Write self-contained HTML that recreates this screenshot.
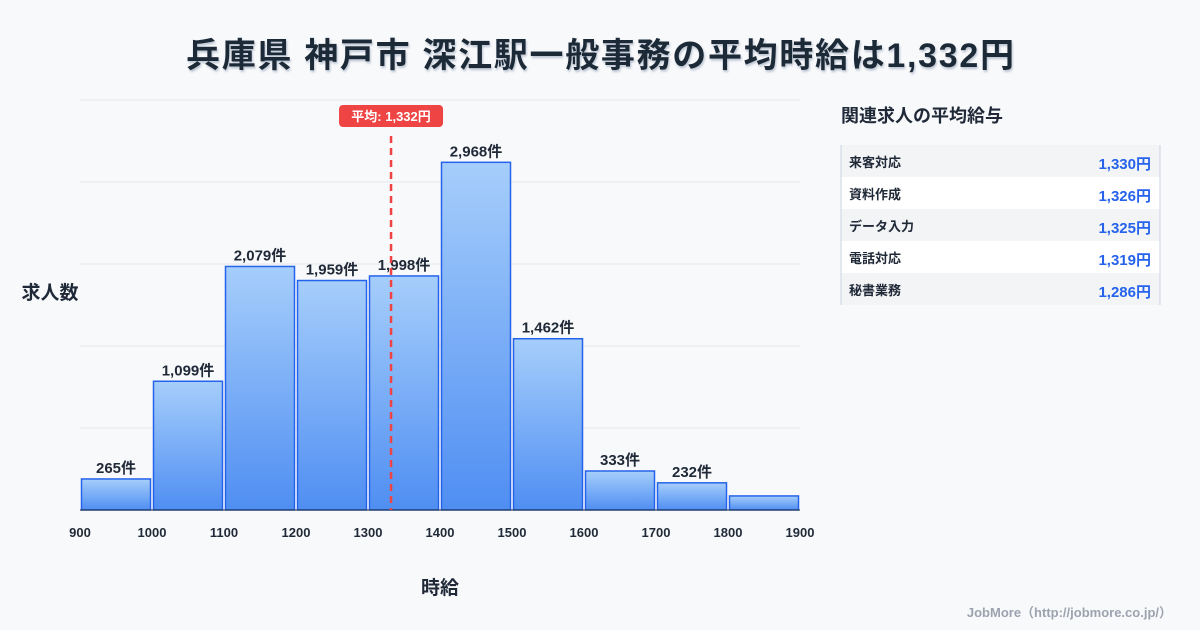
<!DOCTYPE html>
<html><head><meta charset="utf-8">
<style>
body{margin:0;background:#f8f9fb;font-family:"Liberation Sans","Noto Sans CJK JP",sans-serif;}
#wrap{position:relative;width:1200px;height:630px;overflow:hidden;background:#f8f9fb;}
svg text{font-family:"Liberation Sans","Noto Sans CJK JP",sans-serif;}
</style></head><body>
<div id="wrap">
<svg id="svg" width="1200" height="630">
<defs>
<linearGradient id="bg" x1="0" y1="0" x2="0" y2="1">
<stop offset="0" stop-color="#a6cefb"/><stop offset="1" stop-color="#4f8ef2"/>
</linearGradient>
<filter id="sh"><feDropShadow dx="1" dy="2" stdDeviation="1" flood-color="#94a3b8" flood-opacity="0.6"/></filter>
</defs>
<text x="186" y="67" textLength="828" lengthAdjust="spacing" font-size="34" font-weight="bold" fill="#1f2937" filter="url(#sh)">兵庫県 神戸市 深江駅一般事務の平均時給は1,332円</text>
<g id="grid"></g>
<g id="bars"></g>
<g id="xt"></g>
<line x1="80" y1="510" x2="800" y2="510" stroke="#1f2937" stroke-width="1"/>
<text x="440" y="594" text-anchor="middle" font-size="19" font-weight="bold" fill="#1f2937">時給</text>
<text x="50" y="299" text-anchor="middle" font-size="19" font-weight="bold" fill="#1f2937">求人数</text>
<g id="mean"></g>
<text x="841" y="122" font-size="18" font-weight="bold" fill="#1f2937">関連求人の平均給与</text>
<g id="tbl"></g>
<text x="1172" y="617" text-anchor="end" font-size="13" font-weight="bold" fill="#9ca3af">JobMore（http://jobmore.co.jp/）</text>
</svg>
</div>
<script>
const binStarts=[900,1000,1100,1200,1300,1400,1500,1600,1700,1800];
const counts=[265,1099,2079,1959,1998,2968,1462,333,232,120];
const countLabels=["265件","1,099件","2,079件","1,959件","1,998件","2,968件","1,462件","333件","232件",""];
const xTicks=[900,1000,1100,1200,1300,1400,1500,1600,1700,1800,1900];
const yGrid=[0,700,1400,2100,2800,3500];
const meanValue=1332;
const jobNames=["来客対応","資料作成","データ入力","電話対応","秘書業務"];
const jobWages=["1,330円","1,326円","1,325円","1,319円","1,286円"];
const NS="http://www.w3.org/2000/svg";
const xs=v=>80+(v-900)*0.72;
const ys=v=>510-v*410/3500;
function mk(t,a,p){const e=document.createElementNS(NS,t);for(const k in a)e.setAttribute(k,a[k]);p.appendChild(e);return e;}
const g=document.getElementById('grid');
yGrid.forEach(v=>{const l=mk('line',{x1:80,x2:800,y1:ys(v),y2:ys(v),stroke:'#e5e7eb','stroke-width':1},g);

});
const b=document.getElementById('bars');
binStarts.forEach((s,i)=>{const x0=xs(s)+1.5,x1=xs(s+100)-1.5,y=ys(counts[i]);
const r=mk('rect',{x:x0,y:y,width:x1-x0,height:510-y,fill:'url(#bg)',stroke:'#2563eb','stroke-width':1.5},b);


if(countLabels[i]){const t=mk('text',{x:(x0+x1)/2,y:y-6,'text-anchor':'middle','font-size':15,'font-weight':'bold',fill:'#1f2937'},b);t.textContent=countLabels[i];

}});
const xt=document.getElementById('xt');
xTicks.forEach(v=>{const t=mk('text',{x:xs(v),y:537,'text-anchor':'middle','font-size':13,'font-weight':'bold',fill:'#1f2937'},xt);t.textContent=v;

});
const m=document.getElementById('mean');const mx=xs(meanValue);
const ml=mk('line',{x1:mx,x2:mx,y1:136,y2:510,stroke:'#ef4444','stroke-width':2.5,'stroke-dasharray':'7,5'},m);


const mr=mk('rect',{x:mx-52,y:105,width:104,height:22,rx:4,fill:'#ef4444'},m);


const mt=mk('text',{x:mx,y:121,'text-anchor':'middle','font-size':13,'font-weight':'bold',fill:'#fff'},m);mt.textContent='平均: 1,332円';


const tb=document.getElementById('tbl');
jobNames.forEach((n,i)=>{const y=145+i*32;
const r=mk('rect',{x:841,y:y,width:319,height:32,fill:i%2?'#ffffff':'#f3f4f6'},tb);


const a=mk('text',{x:849,y:y+22,'font-size':13,'font-weight':'bold',fill:'#1f2937'},tb);a.textContent=n;


const w=mk('text',{x:1151,y:y+24,'text-anchor':'end','font-size':15,'font-weight':'bold',fill:'#2563eb'},tb);w.textContent=jobWages[i];

});
[841,1160].forEach(x=>{const l=mk('line',{x1:x,x2:x,y1:145,y2:305,stroke:'#cbd5e1','stroke-width':1},tb);

});
</script>
</body></html>
